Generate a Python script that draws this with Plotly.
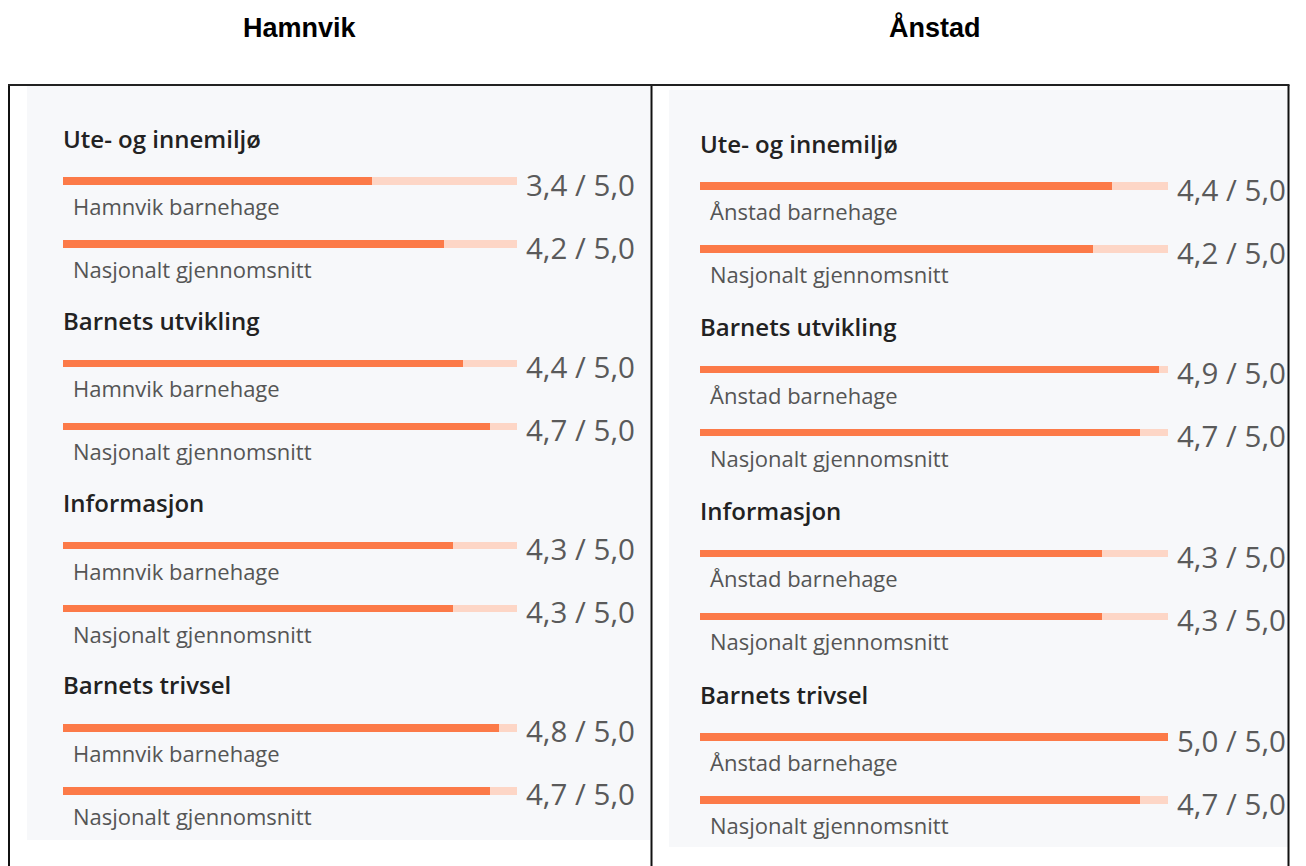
import plotly.graph_objects as go

# ---- data ----
categories = ["Ute- og innemiljø", "Barnets utvikling", "Informasjon", "Barnets trivsel"]
hamnvik_values = [3.4, 4.4, 4.3, 4.8]
hamnvik_national = [4.2, 4.7, 4.3, 4.7]
anstad_values = [4.4, 4.9, 4.3, 5.0]
anstad_national = [4.2, 4.7, 4.3, 4.7]
max_score = 5.0
panel_titles = ["Hamnvik", "Ånstad"]
row_labels_hamnvik = ["Hamnvik barnehage", "Nasjonalt gjennomsnitt"]
row_labels_anstad = ["Ånstad barnehage", "Nasjonalt gjennomsnitt"]

# ---- styling / layout ----
W, H = 1306, 866
ORANGE = "#FC7A48"
PEACH = "#FDD6C6"
BG = "#F7F8FA"
FONT = "Open Sans"


def fmt(v):
    return f"{v:.1f}".replace(".", ",") + " / " + f"{max_score:.1f}".replace(".", ",")


def px(x):
    return x / W


def py(y):
    return 1 - y / H


fig = go.Figure()
annotations = []
shapes = []

panels = [
    dict(xa="x", ya="y", top=138, step=182.3,
         vals=hamnvik_values, nat=hamnvik_national, labels=row_labels_hamnvik,
         title=panel_titles[0], title_x=300),
    dict(xa="x2", ya="y2", top=143, step=183.7,
         vals=anstad_values, nat=anstad_national, labels=row_labels_anstad,
         title=panel_titles[1], title_x=935),
]

for p in panels:
    header_y = [p["top"] + i * p["step"] for i in range(len(categories))]
    y1 = [h + 43 for h in header_y]
    y2 = [h + 106 for h in header_y]
    ys = y1 + y2
    vals = list(p["vals"]) + list(p["nat"])
    # track
    fig.add_trace(go.Bar(x=[max_score] * len(ys), y=ys, orientation="h", width=7.5,
                         marker=dict(color=PEACH, line=dict(width=0)),
                         xaxis=p["xa"], yaxis=p["ya"], hoverinfo="skip", showlegend=False))
    # values
    fig.add_trace(go.Bar(x=vals, y=ys, orientation="h", width=7.5,
                         marker=dict(color=ORANGE, line=dict(width=0)),
                         xaxis=p["xa"], yaxis=p["ya"], showlegend=False))
    for i, cat in enumerate(categories):
        annotations.append(dict(x=0, y=header_y[i], xref=p["xa"], yref=p["ya"], text=cat,
                                showarrow=False, xanchor="left", yanchor="middle", xshift=-2,
                                font=dict(family=FONT, size=24, color="#222222", weight=600)))
    for yy in y1:
        annotations.append(dict(x=0, y=yy + 25, xref=p["xa"], yref=p["ya"], text=p["labels"][0],
                                showarrow=False, xanchor="left", yanchor="middle", xshift=8,
                                font=dict(family=FONT, size=22, color="#555555")))
    for yy in y2:
        annotations.append(dict(x=0, y=yy + 25, xref=p["xa"], yref=p["ya"], text=p["labels"][1],
                                showarrow=False, xanchor="left", yanchor="middle", xshift=8,
                                font=dict(family=FONT, size=22, color="#555555")))
    for yy, v in zip(ys, vals):
        annotations.append(dict(x=max_score, y=yy + 3, xref=p["xa"], yref=p["ya"], text=fmt(v),
                                showarrow=False, xanchor="left", yanchor="middle", xshift=7,
                                font=dict(family=FONT, size=29.5, color="#5a5a5a")))
    annotations.append(dict(x=px(p["title_x"]), y=py(28), xref="paper", yref="paper",
                            text="<b>" + p["title"] + "</b>", showarrow=False,
                            xanchor="center", yanchor="middle",
                            font=dict(family="Liberation Sans", size=27, color="#000000")))

# gray backgrounds
shapes.append(dict(type="rect", xref="paper", yref="paper", x0=px(27), x1=px(650),
                   y0=py(840), y1=py(86), fillcolor=BG, line=dict(width=0), layer="below"))
shapes.append(dict(type="rect", xref="paper", yref="paper", x0=px(669), x1=px(1288),
                   y0=py(847), y1=py(90), fillcolor=BG, line=dict(width=0), layer="below"))
# outer frame + divider drawn as thin filled rectangles
for x in (8, 650.5, 1287.5):
    shapes.append(dict(type="rect", xref="paper", yref="paper", x0=px(x), x1=px(x + 2),
                       y0=py(866), y1=py(85), fillcolor="#111111", line=dict(width=0)))
shapes.append(dict(type="rect", xref="paper", yref="paper", x0=px(8), x1=px(1289.5),
                   y0=py(86), y1=py(84), fillcolor="#222222", line=dict(width=0)))

axis_common = dict(showgrid=False, zeroline=False, showticklabels=False, showline=False,
                   fixedrange=True)
fig.update_layout(
    width=W, height=H, autosize=False,
    margin=dict(l=0, r=0, t=0, b=0),
    paper_bgcolor="white", plot_bgcolor="rgba(0,0,0,0)",
    barmode="overlay", bargap=0,
    xaxis=dict(domain=[px(63), px(517)], range=[0, max_score], **axis_common),
    xaxis2=dict(domain=[px(700), px(1168)], range=[0, max_score], **axis_common),
    yaxis=dict(domain=[0, 1], range=[H, 0], anchor="x", **axis_common),
    yaxis2=dict(domain=[0, 1], range=[H, 0], anchor="x2", **axis_common),
    annotations=annotations, shapes=shapes, showlegend=False,
)

fig.write_html(
    "out.html",
    config={"displayModeBar": False},
    post_script="document.body.style.margin='0';document.body.style.overflow='hidden';",
)
